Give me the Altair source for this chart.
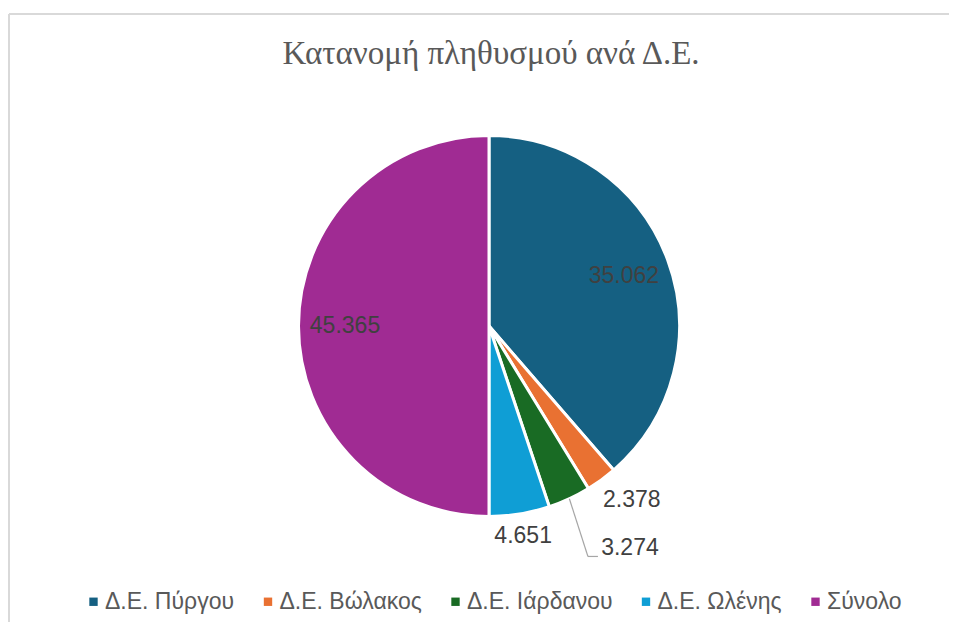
import altair as alt
import pandas as pd

categories = ["Δ.Ε. Πύργου", "Δ.Ε. Βώλακος", "Δ.Ε. Ιάρδανου", "Δ.Ε. Ωλένης", "Σύνολο"]
values = [35062, 2378, 3274, 4651, 45365]
colors = ["#156082", "#E97132", "#196B24", "#0F9ED5", "#A02B93"]

df = pd.DataFrame({
    "cat": categories,
    "value": values,
    "idx": list(range(len(categories))),
    "label": [f"{v:,}".replace(",", ".") for v in values],
})

W, H = 940, 608          # plot area
CX, CY = 480, 312        # pie centre inside the plot area
R = 190.5
FONT = "Liberation Sans"
LBL = "#404040"
FS = 23

base = alt.Chart(df).encode(
    theta=alt.Theta("value:Q", stack=True),
    order=alt.Order("idx:Q"),
    x=alt.value(CX),
    y=alt.value(CY),
)

pie = base.mark_arc(outerRadius=R, stroke="white", strokeWidth=3).encode(
    color=alt.Color(
        "cat:N",
        scale=alt.Scale(domain=categories, range=colors),
        sort=categories,
        legend=alt.Legend(
            orient="none", legendX=73, legendY=576, direction="horizontal",
            columns=5, title=None, symbolType="square", symbolSize=70,
            symbolStrokeWidth=0, labelFont=FONT, labelFontSize=FS,
            labelColor="#595959", columnPadding=21.5, labelOffset=0,
        ),
    )
)

def cond_text(cats):
    return alt.condition(
        alt.FieldOneOfPredicate(field="cat", oneOf=cats),
        alt.Text("label:N"),
        alt.value(""),
    )

inside = base.mark_text(radius=144, font=FONT, fontSize=FS, color=LBL).encode(
    text=cond_text([categories[0], categories[4]])
)
vol = base.mark_text(radius=225, dx=10, dy=-8, font=FONT, fontSize=FS, color=LBL).encode(
    text=cond_text([categories[1]])
)
olen = base.mark_text(radius=213, font=FONT, fontSize=FS, color=LBL).encode(
    text=cond_text([categories[3]])
)

lead = (
    alt.Chart(df)
    .transform_joinaggregate(total="sum(value)")
    .transform_window(cum="sum(value)", sort=[alt.SortField("idx")], frame=[None, 0])
    .transform_filter(alt.datum.cat == categories[2])
    .transform_calculate(a="2*PI*(datum.cum - datum.value/2)/datum.total")
    .transform_calculate(
        sx=f"{CX}+{R}*sin(datum.a)",
        sy=f"{CY}-{R}*cos(datum.a)",
        lx=f"{CX}+263*sin(datum.a)+30",
        ly=f"{CY}-263*cos(datum.a)-16",
    )
    .transform_calculate(cx="datum.lx-42", cy="datum.ly+8", ex="datum.lx-32")
)
rule1 = lead.mark_rule(color="#a6a6a6", strokeWidth=1.2).encode(
    x=alt.X("sx:Q", scale=None, axis=None), y=alt.Y("sy:Q", scale=None, axis=None),
    x2="cx:Q", y2="cy:Q",
)
rule2 = lead.mark_rule(color="#a6a6a6", strokeWidth=1.2).encode(
    x=alt.X("cx:Q", scale=None, axis=None), y=alt.Y("cy:Q", scale=None, axis=None),
    x2="ex:Q",
)
iard = lead.mark_text(font=FONT, fontSize=FS, color=LBL).encode(
    x=alt.X("lx:Q", scale=None, axis=None), y=alt.Y("ly:Q", scale=None, axis=None),
    text="label:N",
)

# chart frame: only the top and left edges are inside the window
frame_df = pd.DataFrame({"k": [0]})
top_edge = alt.Chart(frame_df).mark_rule(color="#d9d9d9", strokeWidth=2).encode(
    x=alt.value(0), x2=alt.value(W + 30), y=alt.value(0)
)
left_edge = alt.Chart(frame_df).mark_rule(color="#d9d9d9", strokeWidth=2).encode(
    x=alt.value(0), y=alt.value(0), y2=alt.value(H + 20)
)

chart = (
    alt.layer(top_edge, left_edge, pie, inside, vol, olen, rule1, rule2, iard)
    .properties(
        width=W, height=H,
        autosize=alt.AutoSizeParams(type="none"),
        padding={"left": 1, "top": 6, "right": 0, "bottom": 0},
        title=alt.TitleParams(
            text="Κατανομή πληθυσμού ανά Δ.Ε.", font="Liberation Serif", fontSize=33,
            fontWeight="normal", color="#595959", anchor="middle", frame="group",
            baseline="alphabetic", offset=-84, dx=12,
        ),
    )
    .configure_view(stroke=None)
)

chart.save("out.html", embed_options={"renderer": "svg", "actions": False})
